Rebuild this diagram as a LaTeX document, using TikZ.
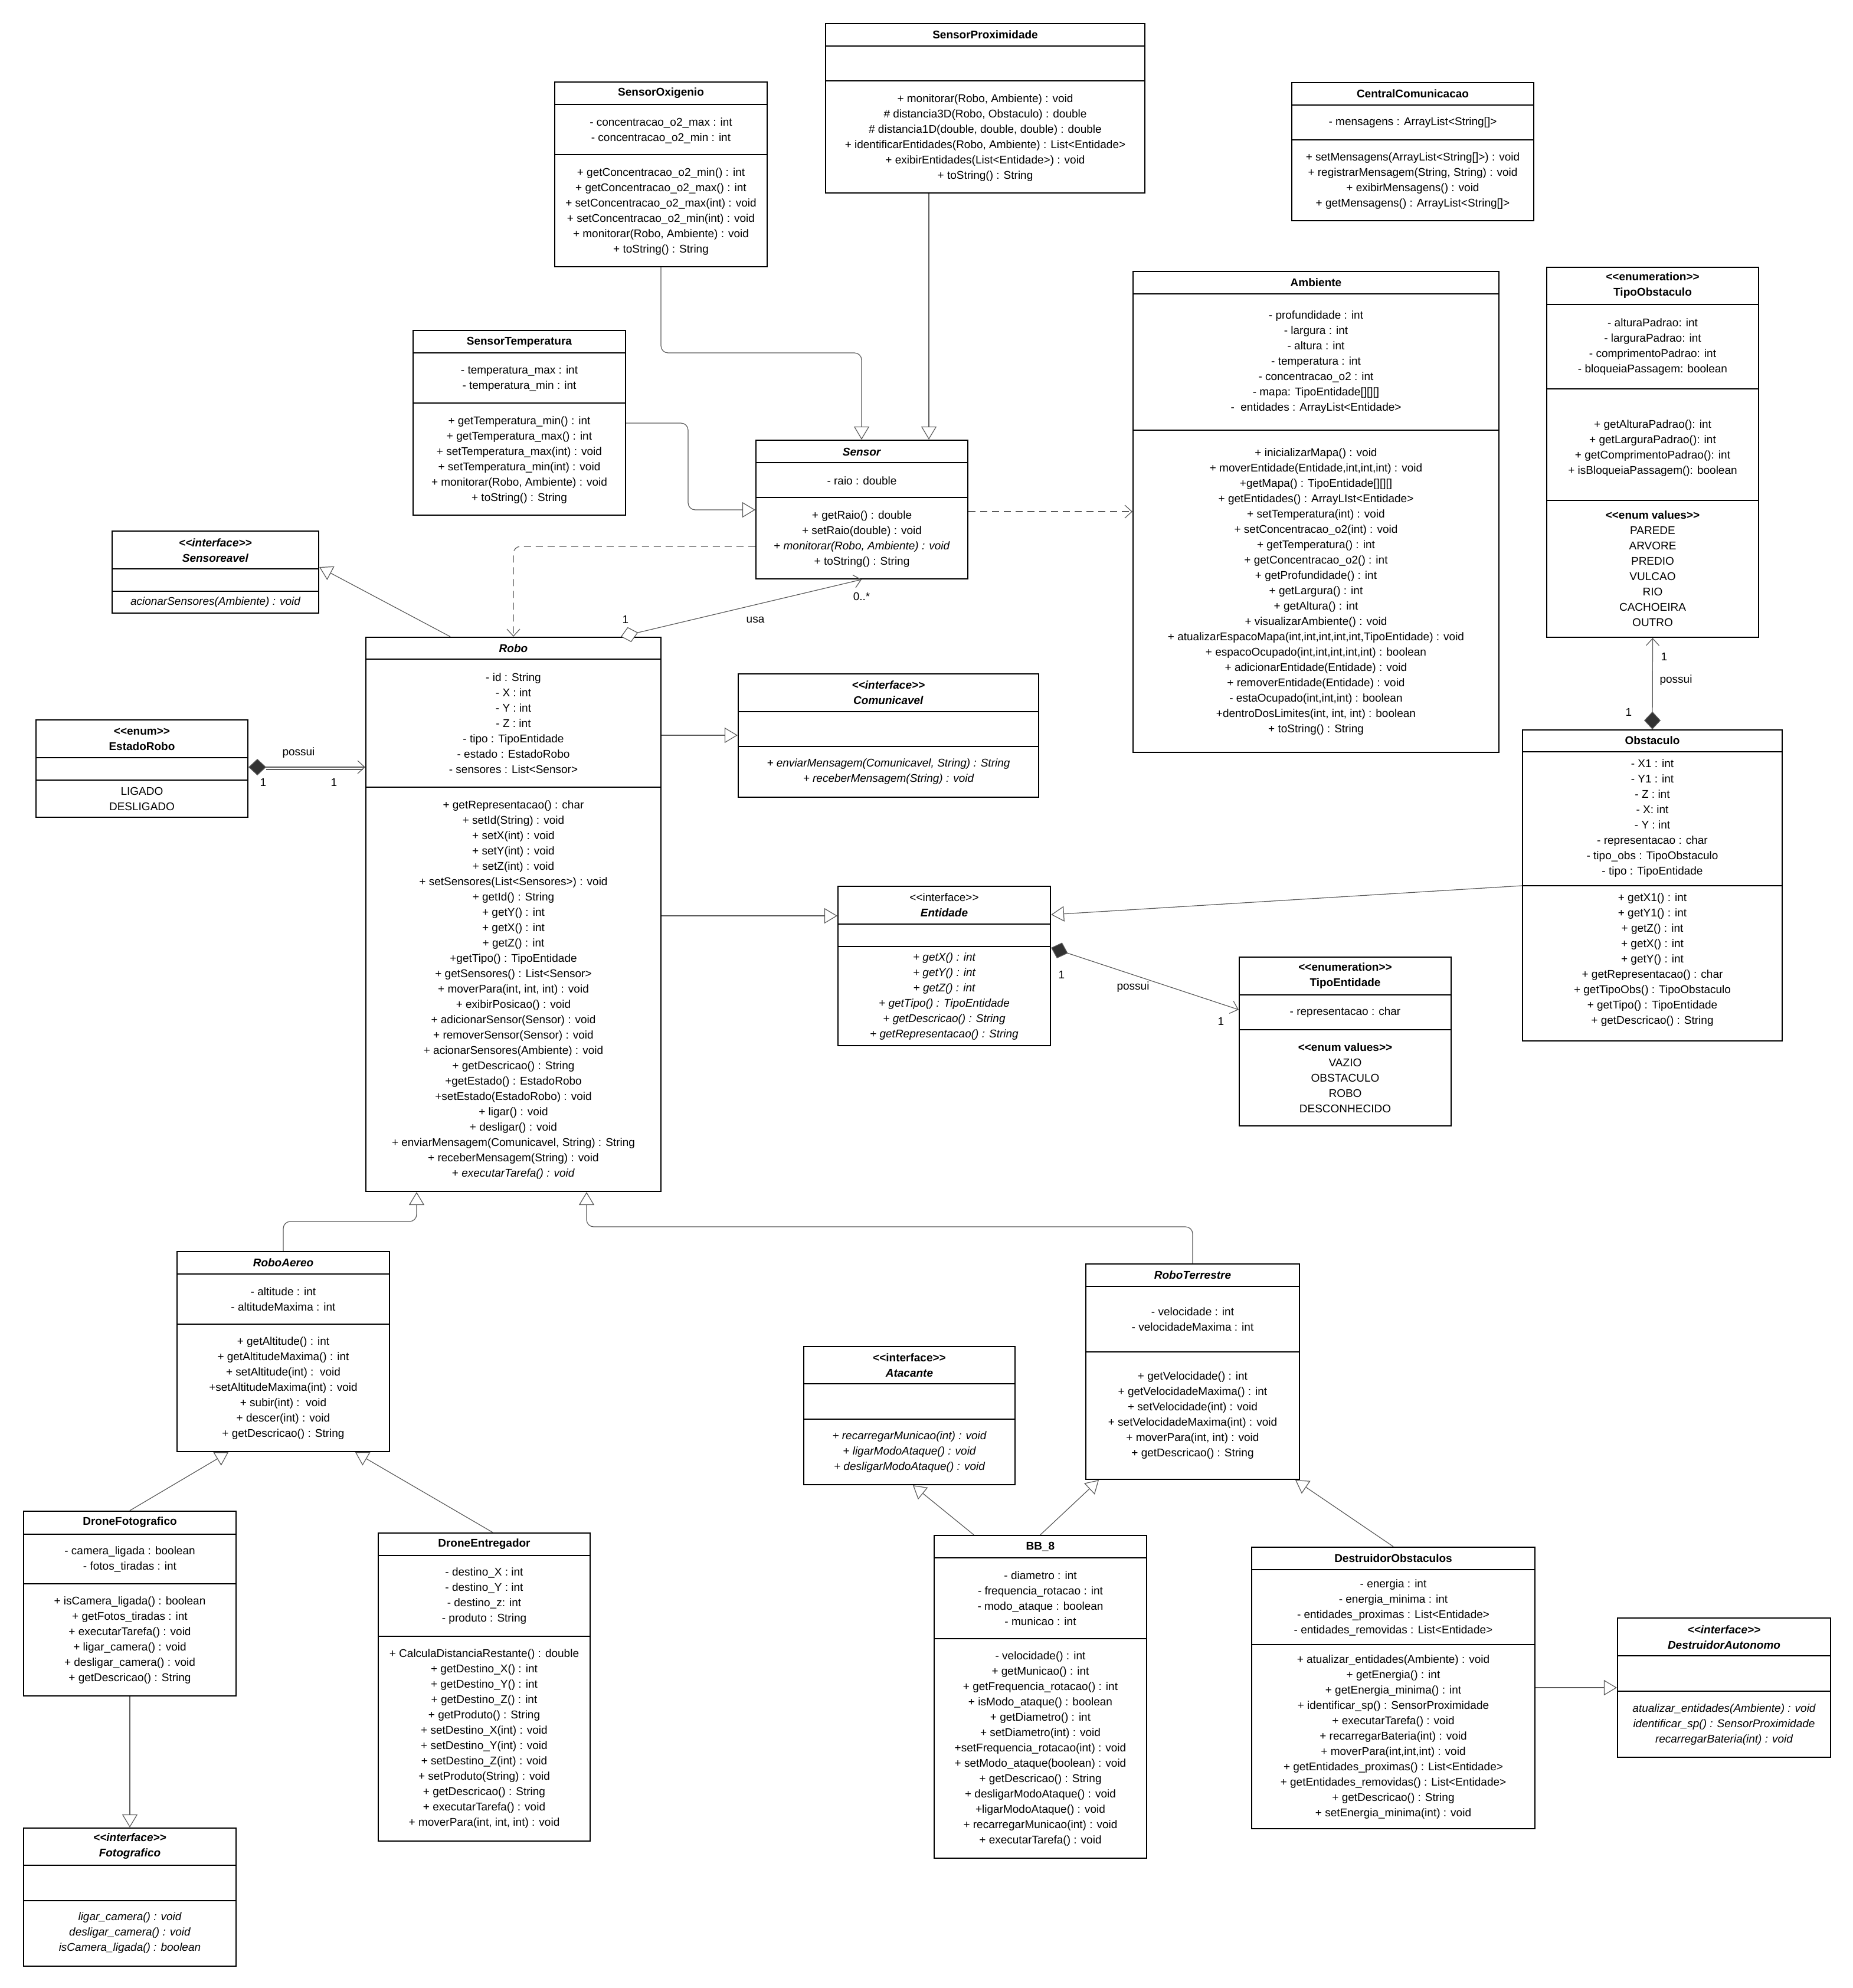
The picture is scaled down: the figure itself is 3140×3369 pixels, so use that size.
\documentclass[tikz,border=0pt]{standalone}
\usepackage{fontspec}
\setmainfont{Liberation Sans}
\usetikzlibrary{arrows.meta,fit}
\newcommand\umlbox[5]{\node[umlbox, fit={(#2,#3) (#4,#5)}] (#1) {};}
\newcommand\sepl[3]{\draw[sepline] (#1,#3) -- (#2,#3);}
\newcommand\umltxt[4]{\node[txt] (#1) at (#2,#3) {#4};}
\newcommand\umlitxt[4]{\node[itxt] (#1) at (#2,#3) {#4};}
\newcommand\ltlt{<\kern0pt<}
\newcommand\gtgt{>\kern0pt>}
\begin{document}
\begin{tikzpicture}[x=0.5pt,y=-0.5pt,
  umlbox/.style={draw=black, line width=1.1pt, inner sep=0pt, fill=white},
  sepline/.style={draw=black, line width=1.1pt},
  txt/.style={align=center, inner sep=0pt, font=\fontsize{9.5}{13}\selectfont},
  itxt/.style={align=center, inner sep=0pt, font=\fontsize{9.5}{13}\selectfont\itshape},
  conn/.style={draw=black!65, line width=0.6pt},
  gen/.style={conn, -{Triangle[fill=white, length=11pt, width=13pt]}},
  dep/.style={conn, dash pattern=on 6pt off 4pt, -{Straight Barb[length=6pt, width=11pt]}},
  comp/.style={conn, {Diamond[fill=black!80, length=15pt, width=14pt]}-{Straight Barb[length=6pt, width=11pt]}},
  agg/.style={conn, {Diamond[fill=white, length=15pt, width=13pt]}-{Straight Barb[length=6pt, width=11pt]}}
]
\fill[white] (0,0) rectangle (3140,3369);
\useasboundingbox (0,0) rectangle (3140,3369);

% ---------------- SensorProximidade
\umlbox{sprox}{1399}{40}{1940}{327}
\sepl{1399}{1940}{78}\sepl{1399}{1940}{137}
\umltxt{sprox-h}{1669.5}{59}{\textbf{SensorProximidade}}
\umltxt{sprox-m}{1669.5}{233.5}{+ monitorar(Robo, Ambiente) : void\\ \# distancia3D(Robo, Obstaculo) : double\\ \# distancia1D(double, double, double) : double\\ + identificarEntidades(Robo, Ambiente) : List<Entidade>\\ + exibirEntidades(List<Entidade>) : void\\ + toString() : String}

% ---------------- SensorOxigenio
\umlbox{soxi}{940}{139}{1300}{452}
\sepl{940}{1300}{177}\sepl{940}{1300}{262}
\umltxt{soxi-h}{1120}{158}{\textbf{SensorOxigenio}}
\umltxt{soxi-a}{1120}{221}{- concentracao\_o2\_max : int\\ - concentracao\_o2\_min : int}
\umltxt{soxi-m}{1120}{358.5}{+ getConcentracao\_o2\_min() : int\\ + getConcentracao\_o2\_max() : int\\ + setConcentracao\_o2\_max(int) : void\\ + setConcentracao\_o2\_min(int) : void\\ + monitorar(Robo, Ambiente) : void\\ + toString() : String}

% ---------------- CentralComunicacao
\umlbox{central}{2189}{140}{2599}{374}
\sepl{2189}{2599}{178}\sepl{2189}{2599}{237}
\umltxt{central-h}{2394}{159}{\textbf{CentralComunicacao}}
\umltxt{central-a}{2394}{208}{- mensagens : ArrayList<String[]>}
\umltxt{central-m}{2394}{307}{+ setMensagens(ArrayList<String[]>) : void\\ + registrarMensagem(String, String) : void\\ + exibirMensagens() : void\\ + getMensagens() : ArrayList<String[]>}

% ---------------- Ambiente
\umlbox{amb}{1920}{460}{2540}{1275}
\sepl{1920}{2540}{498}\sepl{1920}{2540}{729}
\umltxt{amb-h}{2230}{479}{\textbf{Ambiente}}
\umltxt{amb-a}{2230}{614}{- profundidade : int\\ - largura : int\\ - altura : int\\ - temperatura : int\\ - concentracao\_o2 : int\\ - mapa: TipoEntidade[][][]\\ -\ \ entidades : ArrayList<Entidade>}
\umltxt{amb-m}{2230}{1003}{+ inicializarMapa() : void\\ + moverEntidade(Entidade,int,int,int) : void\\ +getMapa() : TipoEntidade[][][]\\ + getEntidades() : ArrayLIst<Entidade>\\ + setTemperatura(int) : void\\ + setConcentracao\_o2(int) : void\\ + getTemperatura() : int\\ + getConcentracao\_o2() : int\\ + getProfundidade() : int\\ + getLargura() : int\\ + getAltura() : int\\ + visualizarAmbiente() : void\\ + atualizarEspacoMapa(int,int,int,int,int,TipoEntidade) : void\\ + espacoOcupado(int,int,int,int,int) : boolean\\ + adicionarEntidade(Entidade) : void\\ + removerEntidade(Entidade) : void\\ - estaOcupado(int,int,int) : boolean\\ +dentroDosLimites(int, int, int) : boolean\\ + toString() : String}

% ---------------- TipoObstaculo
\umlbox{tobs}{2621}{453}{2980}{1080}
\sepl{2621}{2980}{516}\sepl{2621}{2980}{659}\sepl{2621}{2980}{848}
\umltxt{tobs-h}{2800.5}{484}{\textbf{\ltlt enumeration\gtgt}\\ \textbf{TipoObstaculo}}
\umltxt{tobs-a}{2800.5}{588}{- alturaPadrao: int\\ - larguraPadrao: int\\ - comprimentoPadrao: int\\ - bloqueiaPassagem: boolean}
\umltxt{tobs-m}{2800.5}{760}{+ getAlturaPadrao(): int\\ + getLarguraPadrao(): int\\ + getComprimentoPadrao(): int\\ + isBloqueiaPassagem(): boolean}
\umltxt{tobs-e}{2800.5}{964}{\textbf{\ltlt enum values\gtgt}\\ PAREDE\\ ARVORE\\ PREDIO\\ VULCAO\\ RIO\\ CACHOEIRA\\ OUTRO}

% ---------------- Sensor
\umlbox{sensor}{1281}{746}{1640}{981}
\sepl{1281}{1640}{784}\sepl{1281}{1640}{843}
\umltxt{sensor-h}{1460.5}{766}{\textbf{\textit{Sensor}}}
\umltxt{sensor-a}{1460.5}{815}{- raio : double}
\umltxt{sensor-m}{1460.5}{914}{+ getRaio() : double\\ + setRaio(double) : void\\ + \textit{monitorar(Robo, Ambiente) : void}\\ + toString() : String}

% ---------------- SensorTemperatura
\umlbox{stemp}{700}{560}{1060}{873}
\sepl{700}{1060}{598}\sepl{700}{1060}{683}
\umltxt{stemp-h}{880}{580}{\textbf{SensorTemperatura}}
\umltxt{stemp-a}{880}{642}{- temperatura\_max : int\\ - temperatura\_min : int}
\umltxt{stemp-m}{880}{779.5}{+ getTemperatura\_min() : int\\ + getTemperatura\_max() : int\\ + setTemperatura\_max(int) : void\\ + setTemperatura\_min(int) : void\\ + monitorar(Robo, Ambiente) : void\\ + toString() : String}

% ---------------- Sensoreavel
\umlbox{sensv}{190}{900}{540}{1039}
\sepl{190}{540}{964}\sepl{190}{540}{1002}
\umltxt{sensv-h}{365}{933}{\textbf{\textit{\ltlt interface\gtgt}}\\ \textbf{\textit{Sensoreavel}}}
\umlitxt{sensv-m}{365}{1021}{acionarSensores(Ambiente) : void}

% ---------------- Robo
\umlbox{robo}{620}{1080}{1120}{2019}
\sepl{620}{1120}{1117}\sepl{620}{1120}{1334}
\umltxt{robo-h}{870}{1099}{\textbf{\textit{Robo}}}
\umltxt{robo-a}{870}{1226}{- id : String\\ - X : int\\ - Y : int\\ - Z : int\\ - tipo : TipoEntidade\\ - estado : EstadoRobo\\ - sensores : List<Sensor>}
\umltxt{robo-m}{870}{1677.5}{+ getRepresentacao() : char\\ + setId(String) : void\\ + setX(int) : void\\ + setY(int) : void\\ + setZ(int) : void\\ + setSensores(List<Sensores>) : void\\ + getId() : String\\ + getY() : int\\ + getX() : int\\ + getZ() : int\\ +getTipo() : TipoEntidade\\ + getSensores() : List<Sensor>\\ + moverPara(int, int, int) : void\\ + exibirPosicao() : void\\ + adicionarSensor(Sensor) : void\\ + removerSensor(Sensor) : void\\ + acionarSensores(Ambiente) : void\\ + getDescricao() : String\\ +getEstado() : EstadoRobo\\ +setEstado(EstadoRobo) : void\\ + ligar() : void\\ + desligar() : void\\ + enviarMensagem(Comunicavel, String) : String\\ + receberMensagem(String) : void\\ + \textit{executarTarefa() : void}}

% ---------------- EstadoRobo
\umlbox{estado}{61}{1220}{420}{1385}
\sepl{61}{420}{1284}\sepl{61}{420}{1322}
\umltxt{estado-h}{240.5}{1252.5}{\textbf{\ltlt enum\gtgt}\\ \textbf{EstadoRobo}}
\umltxt{estado-v}{240.5}{1354}{LIGADO\\ DESLIGADO}

% ---------------- Comunicavel
\umlbox{comun}{1251}{1142}{1760}{1351}
\sepl{1251}{1760}{1206}\sepl{1251}{1760}{1265}
\umltxt{comun-h}{1505.5}{1174}{\textbf{\textit{\ltlt interface\gtgt}}\\ \textbf{\textit{Comunicavel}}}
\umlitxt{comun-m}{1505.5}{1308}{+ enviarMensagem(Comunicavel, String) : String\\ + receberMensagem(String) : void}

% ---------------- Entidade
\umlbox{ent}{1420}{1502}{1780}{1772}
\sepl{1420}{1780}{1566}\sepl{1420}{1780}{1604}
\umltxt{ent-h}{1600}{1534}{\ltlt interface\gtgt\\ \textbf{\textit{Entidade}}}
\umlitxt{ent-m}{1600}{1688.5}{+ getX() : int\\ + getY() : int\\ + getZ() : int\\ + getTipo() : TipoEntidade\\ + getDescricao() : String\\ + getRepresentacao() : String}

% ---------------- TipoEntidade
\umlbox{tent}{2100}{1622}{2459}{1908}
\sepl{2100}{2459}{1686}\sepl{2100}{2459}{1745}
\umltxt{tent-h}{2279.5}{1654}{\textbf{\ltlt enumeration\gtgt}\\ \textbf{TipoEntidade}}
\umltxt{tent-a}{2279.5}{1716}{- representacao : char}
\umltxt{tent-e}{2279.5}{1827}{\textbf{\ltlt enum values\gtgt}\\ VAZIO\\ OBSTACULO\\ ROBO\\ DESCONHECIDO}

% ---------------- Obstaculo
\umlbox{obst}{2580}{1237}{3020}{1764}
\sepl{2580}{3020}{1274}\sepl{2580}{3020}{1501}
\umltxt{obst-h}{2800}{1255}{\textbf{Obstaculo}}
\umltxt{obst-a}{2800}{1387}{- X1 : int\\ - Y1 : int\\ - Z : int\\ - X: int\\ - Y : int\\ - representacao : char\\ - tipo\_obs : TipoObstaculo\\ - tipo : TipoEntidade}
\umltxt{obst-m}{2800}{1626.5}{+ getX1() : int\\ + getY1() : int\\ + getZ() : int\\ + getX() : int\\ + getY() : int\\ + getRepresentacao() : char\\ + getTipoObs() : TipoObstaculo\\ + getTipo() : TipoEntidade\\ + getDescricao() : String}

% ---------------- RoboAereo
\umlbox{aereo}{300}{2121}{660}{2460}
\sepl{300}{660}{2159}\sepl{300}{660}{2244}
\umltxt{aereo-h}{480}{2140}{\textbf{\textit{RoboAereo}}}
\umltxt{aereo-a}{480}{2201.5}{- altitude : int\\ - altitudeMaxima : int}
\umltxt{aereo-m}{480}{2352.5}{+ getAltitude() : int\\ + getAltitudeMaxima() : int\\ + setAltitude(int) :\ \ void\\ +setAltitudeMaxima(int) : void\\ + subir(int) :\ \ void\\ + descer(int) : void\\ + getDescricao() : String}

% ---------------- DroneFotografico
\umlbox{dfoto}{40}{2561}{400}{2874}
\sepl{40}{400}{2600}\sepl{40}{400}{2684}
\umltxt{dfoto-h}{220}{2580}{\textbf{DroneFotografico}}
\umltxt{dfoto-a}{220}{2642}{- camera\_ligada : boolean\\ - fotos\_tiradas : int}
\umltxt{dfoto-m}{220}{2779.5}{+ isCamera\_ligada() : boolean\\ + getFotos\_tiradas : int\\ + executarTarefa() : void\\ + ligar\_camera() : void\\ + desligar\_camera() : void\\ + getDescricao() : String}

% ---------------- Fotografico
\umlbox{foto}{40}{3098}{400}{3332}
\sepl{40}{400}{3161}\sepl{40}{400}{3221}
\umltxt{foto-h}{220}{3129}{\textbf{\textit{\ltlt interface\gtgt}}\\ \textbf{\textit{Fotografico}}}
\umlitxt{foto-m}{220}{3276}{ligar\_camera() : void\\ desligar\_camera() : void\\ isCamera\_ligada() : boolean}

% ---------------- DroneEntregador
\umlbox{dent}{641}{2598}{1000}{3120}
\sepl{641}{1000}{2636}\sepl{641}{1000}{2773}
\umltxt{dent-h}{820.5}{2617}{\textbf{DroneEntregador}}
\umltxt{dent-a}{820.5}{2705}{- destino\_X : int\\ - destino\_Y : int\\ - destino\_z: int\\ - produto : String}
\umltxt{dent-m}{820.5}{2947}{+ CalculaDistanciaRestante() : double\\ + getDestino\_X() : int\\ + getDestino\_Y() : int\\ + getDestino\_Z() : int\\ + getProduto() : String\\ + setDestino\_X(int) : void\\ + setDestino\_Y(int) : void\\ + setDestino\_Z(int) : void\\ + setProduto(String) : void\\ + getDescricao() : String\\ + executarTarefa() : void\\ + moverPara(int, int, int) : void}

% ---------------- Atacante
\umlbox{atac}{1362}{2282}{1720}{2516}
\sepl{1362}{1720}{2345}\sepl{1362}{1720}{2405}
\umltxt{atac-h}{1541}{2313.5}{\textbf{\ltlt interface\gtgt}\\ \textbf{\textit{Atacante}}}
\umlitxt{atac-m}{1541}{2461}{+ recarregarMunicao(int) : void\\ + ligarModoAtaque() : void\\ + desligarModoAtaque() : void}

% ---------------- RoboTerrestre
\umlbox{terr}{1840}{2142}{2202}{2507}
\sepl{1840}{2202}{2180}\sepl{1840}{2202}{2291}
\umltxt{terr-h}{2021}{2161}{\textbf{\textit{RoboTerrestre}}}
\umltxt{terr-a}{2021}{2235.5}{- velocidade : int\\ - velocidadeMaxima : int}
\umltxt{terr-m}{2021}{2399}{+ getVelocidade() : int\\ + getVelocidadeMaxima() : int\\ + setVelocidade(int) : void\\ + setVelocidadeMaxima(int) : void\\ + moverPara(int, int) : void\\ + getDescricao() : String}

% ---------------- BB_8
\umlbox{bb8}{1583}{2602}{1943}{3149}
\sepl{1583}{1943}{2640}\sepl{1583}{1943}{2777}
\umltxt{bb8-h}{1763}{2621}{\textbf{BB\_8}}
\umltxt{bb8-a}{1763}{2708.5}{- diametro : int\\ - frequencia\_rotacao : int\\ - modo\_ataque : boolean\\ - municao : int}
\umltxt{bb8-m}{1763}{2964}{- velocidade() : int\\ + getMunicao() : int\\ + getFrequencia\_rotacao() : int\\ + isModo\_ataque() : boolean\\ + getDiametro() : int\\ + setDiametro(int) : void\\ +setFrequencia\_rotacao(int) : void\\ + setModo\_ataque(boolean) : void\\ + getDescricao() : String\\ + desligarModoAtaque() : void\\ +ligarModoAtaque() : void\\ + recarregarMunicao(int) : void\\ + executarTarefa() : void}

% ---------------- DestruidorObstaculos
\umlbox{dobs}{2121}{2622}{2601}{3099}
\sepl{2121}{2601}{2660}\sepl{2121}{2601}{2787}
\umltxt{dobs-h}{2361}{2641}{\textbf{DestruidorObstaculos}}
\umltxt{dobs-a}{2361}{2724}{- energia : int\\ - energia\_minima : int\\ - entidades\_proximas : List<Entidade>\\ - entidades\_removidas : List<Entidade>}
\umltxt{dobs-m}{2361}{2944}{+ atualizar\_entidades(Ambiente) : void\\ + getEnergia() : int\\ + getEnergia\_minima() : int\\ + identificar\_sp() : SensorProximidade\\ + executarTarefa() : void\\ + recarregarBateria(int) : void\\ + moverPara(int,int,int) : void\\ + getEntidades\_proximas() : List<Entidade>\\ + getEntidades\_removidas() : List<Entidade>\\ + getDescricao() : String\\ + setEnergia\_minima(int) : void}

% ---------------- DestruidorAutonomo
\umlbox{dauto}{2741}{2742}{3102}{2978}
\sepl{2741}{3102}{2806}\sepl{2741}{3102}{2866}
\umltxt{dauto-h}{2921.5}{2775}{\textbf{\textit{\ltlt interface\gtgt}}\\ \textbf{\textit{DestruidorAutonomo}}}
\umlitxt{dauto-m}{2921.5}{2923}{atualizar\_entidades(Ambiente) : void\\ identificar\_sp() : SensorProximidade\\ recarregarBateria(int) : void}

% ================= connectors
\draw[gen, rounded corners=6pt] (soxi.south) -- (1120,598) -- (1460,598) -- (1460,0 |- sensor.north);
\draw[gen] (1574,0 |- sprox.south) -- (1574,0 |- sensor.north);
\draw[gen, rounded corners=6pt] (stemp.east |- 0,717) -- (1166,717) -- (1166,864) -- (sensor.west |- 0,864);
\draw[dep] (sensor.east |- 0,867) -- (amb.west |- 0,867);
\draw[dep, rounded corners=6pt] (sensor.west |- 0,926) -- (870,926) -- (robo.north);
\draw[agg] (1052,0 |- robo.north) -- (1460,0 |- sensor.south);
\draw[gen] (763,0 |- robo.north) -- (sensv.east |- 0,961);
\draw[comp] (estado.east |- 0,1300) -- (robo.west |- 0,1300);
\draw[conn, shorten <=15pt, shorten >=2pt] (estado.east |- 0,1304) -- (robo.west |- 0,1304);
\draw[gen] (robo.east |- 0,1246) -- (comun.west |- 0,1246);
\draw[gen] (robo.east |- 0,1552) -- (ent.west |- 0,1552);
\draw[gen] (obst.west |- 0,1501) -- (ent.east |- 0,1550);
\draw[comp] (ent.east |- 0,1606) -- (tent.west |- 0,1711);
\draw[comp] (obst.north) -- (tobs.south);
\draw[gen, rounded corners=6pt] (aereo.north) -- (480,2070) -- (706,2070) -- (706,0 |- robo.south);
\draw[gen, rounded corners=6pt] (terr.north) -- (2021,2079) -- (994,2079) -- (994,0 |- robo.south);
\draw[gen] (dfoto.north) -- (387,0 |- aereo.south);
\draw[gen] (835,0 |- dent.north) -- (602,0 |- aereo.south);
\draw[gen] (dfoto.south) -- (foto.north);
\draw[gen] (1650,0 |- bb8.north) -- (1547,0 |- atac.south);
\draw[gen] (bb8.north) -- (1862,0 |- terr.south);
\draw[gen] (dobs.north) -- (2195,0 |- terr.south);
\draw[gen] (dobs.east |- 0,2860) -- (dauto.west |- 0,2860);

% ================= labels
\umltxt{l-usa1}{1060}{1050}{1}
\umltxt{l-usa}{1280}{1050}{usa}
\umltxt{l-usa2}{1460}{1011}{0..*}
\umltxt{l-est}{506}{1276}{possui}
\umltxt{l-est1}{446}{1326}{1}
\umltxt{l-est2}{566}{1326}{1}
\umltxt{l-ent1}{1799}{1652}{1}
\umltxt{l-ent}{1920}{1673}{possui}
\umltxt{l-ent2}{2069}{1731}{1}
\umltxt{l-obs1}{2820}{1113}{1}
\umltxt{l-obs}{2840}{1153}{possui}
\umltxt{l-obs2}{2760}{1207}{1}
\end{tikzpicture}
\end{document}
